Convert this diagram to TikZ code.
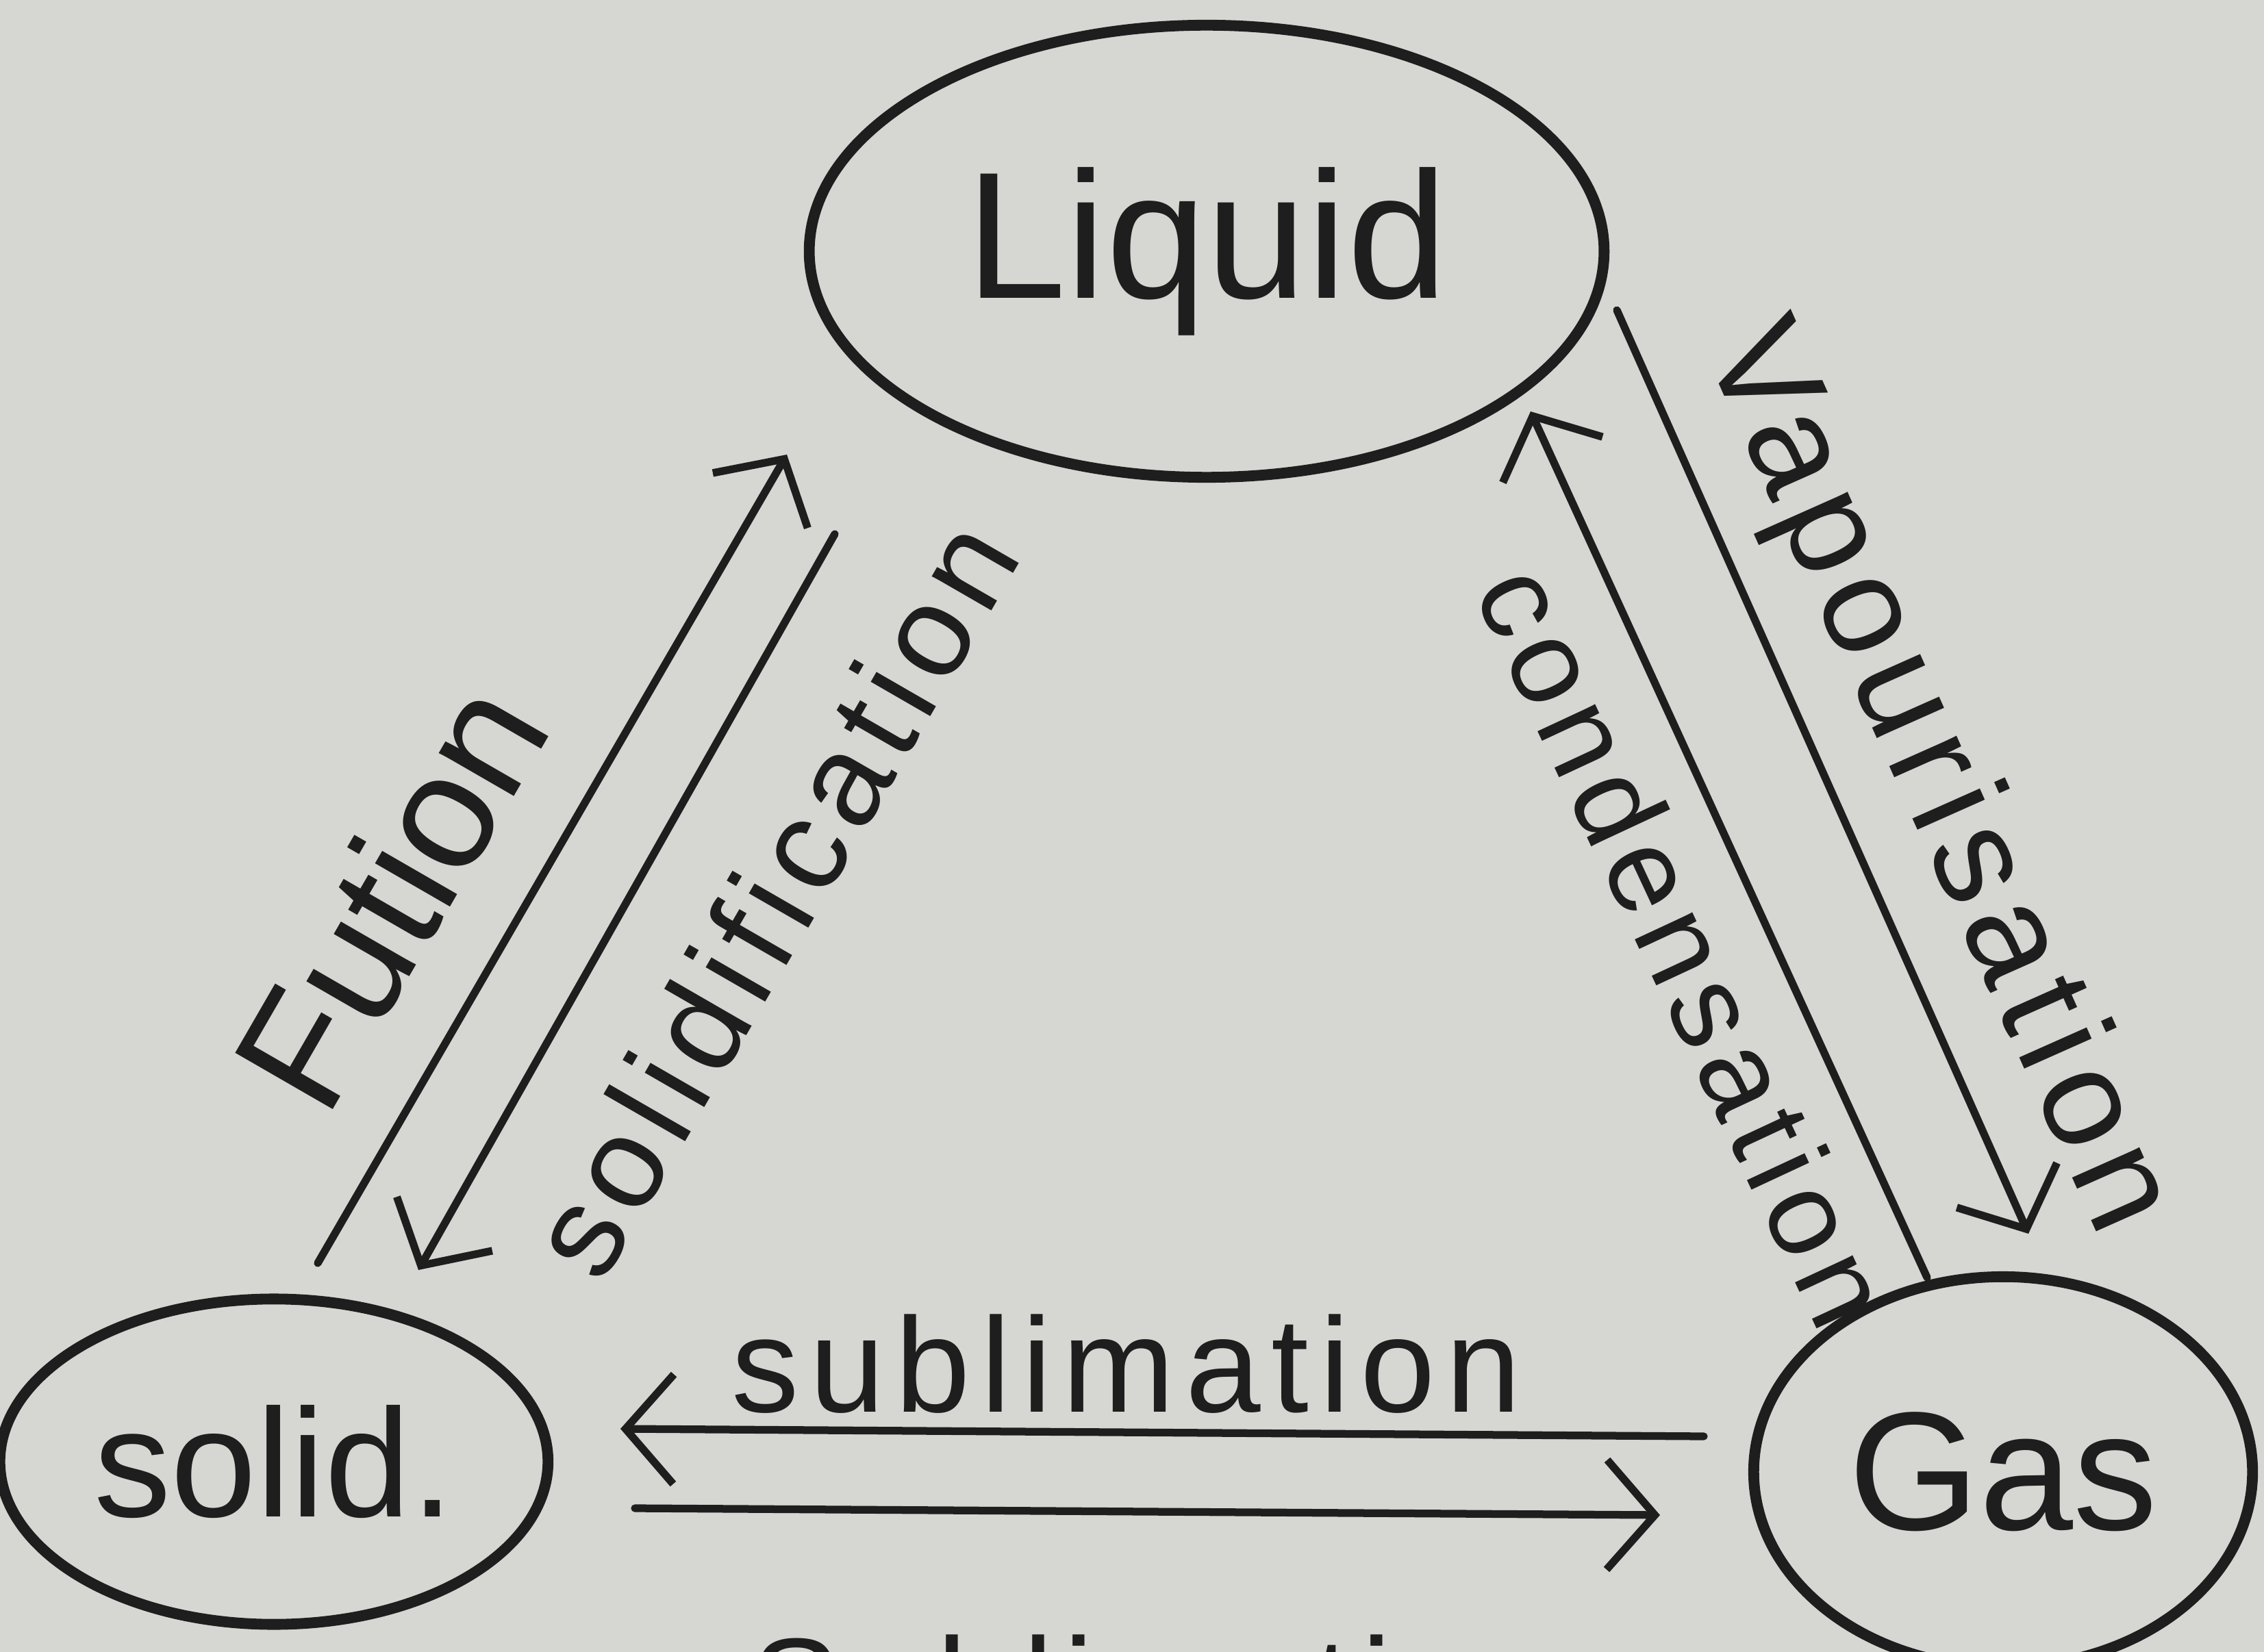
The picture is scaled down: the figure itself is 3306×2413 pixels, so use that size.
\documentclass[tikz,border=0pt]{standalone}
\usepackage{fontspec}
\setmainfont{Liberation Sans}
\newfontfamily\handsp[LetterSpace=8]{Liberation Sans}
\usetikzlibrary{shapes.geometric,arrows.meta}
\definecolor{paper}{RGB}{214,215,210}
\definecolor{ink}{RGB}{30,30,30}
\begin{document}
\begin{tikzpicture}[x=0.01cm,y=-0.01cm,
  state/.style={draw=ink,line width=4.5pt,ellipse,inner sep=0pt,text=ink},
  flow/.style={draw=ink,line width=3.2pt,line cap=round,-{Straight Barb[length=0.7cm,width=1.6cm]}},
  lbl/.style={text=ink,inner sep=0pt}]
\useasboundingbox (0,0) rectangle (3306,2413);
\clip (0,0) rectangle (3306,2413);
\fill[paper] (0,0) rectangle (3306,2413);

% states
\node[state,minimum width=11.6cm,minimum height=6.6cm,font=\fontsize{75}{80}\selectfont] (liquid) at (1762,367) {Liquid};
\node[state,minimum width=8cm,minimum height=4.75cm,font=\fontsize{64}{70}\selectfont] (solid) at (400,2135) {solid.};
\node[state,minimum width=7.28cm,minimum height=5.7cm,font=\fontsize{70}{75}\selectfont] (gas) at (2925,2150) {Gas};

% arrow end points
\coordinate (fusA) at (464,1845); \coordinate (fusB) at (1149,664);
\coordinate (solA) at (1219,780); \coordinate (solB) at (611,1855);
\coordinate (vapA) at (2361,453); \coordinate (vapB) at (2962,1802);
\coordinate (conA) at (2814,1866); \coordinate (conB) at (2235,601);
\coordinate (subA) at (2488,2098); \coordinate (subB) at (906,2087);
\coordinate (depA) at (927,2203); \coordinate (depB) at (2424,2213);

\draw[flow] (fusA) -- (fusB);
\draw[flow] (solA) -- (solB);
\draw[flow] (vapA) -- (vapB);
\draw[flow] (conA) -- (conB);
\draw[flow] (subA) -- (subB);
\draw[flow] (depA) -- (depB);

% labels
\node[lbl,rotate=60,font=\fontsize{68}{72}\selectfont] (lfus) at (569,1307) {Fution};
\node[lbl,rotate=60,font=\handsp\fontsize{54}{60}\selectfont] (lsol) at (1128,1311) {solidification};
\node[lbl,rotate=-66,font=\handsp\fontsize{58}{64}\selectfont] (lvap) at (2825,1138) {Vapourisation};
\node[lbl,rotate=-65,font=\handsp\fontsize{50}{56}\selectfont] (lcon) at (2461,1381) {condensation};
\node[lbl,font=\handsp\fontsize{56}{62}\selectfont] (lsub) at (1645,1992) {sublimation};
\node[lbl,font=\handsp\fontsize{56}{62}\selectfont] (ldep) at (1690,2460) {Sublimation};
\end{tikzpicture}
\end{document}
